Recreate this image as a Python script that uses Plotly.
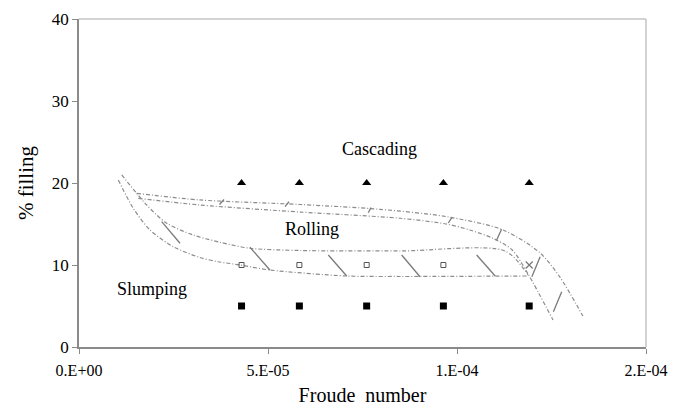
import plotly.graph_objects as go

# ---------------- data ----------------
froude = [4.30e-5, 5.83e-5, 7.61e-5, 9.64e-5, 1.191e-4]
cascading_fill = [20, 20, 20, 20, 20]
rolling_fill = [10, 10, 10, 10]
rolling_froude = froude[:4]
transition_froude = [froude[4]]
transition_fill = [10]
slumping_fill = [5, 5, 5, 5, 5]

# boundary curves (schematic)
u1_x = [15.26e-6, 32.0e-6, 58.5e-6, 79.6e-6, 97.3e-6, 112.2e-6, 122.0e-6, 127.2e-6, 133.3e-6]
u1_y = [18.74, 17.93, 17.38, 16.79, 15.89, 14.27, 11.46, 8.54, 3.78]
u2_x = [15.69e-6, 32.0e-6, 58.5e-6, 84.9e-6, 97.1e-6, 103.4e-6, 109.5e-6, 114.6e-6, 118.8e-6, 125.4e-6]
u2_y = [18.13, 17.32, 16.46, 15.70, 15.00, 14.27, 13.26, 11.83, 8.90, 3.29]
l1_x = [11.3e-6, 15.26e-6, 17.91e-6, 23.2e-6, 30.24e-6, 37.3e-6, 45.24e-6, 58.47e-6, 84.92e-6, 112.7e-6, 118.8e-6]
l1_y = [20.98, 18.74, 17.32, 15.09, 13.66, 12.77, 12.04, 11.77, 11.71, 11.71, 8.78]
l2_x = [10.4e-6, 14.37e-6, 18.78e-6, 24.95e-6, 32.0e-6, 36.85e-6, 42.6e-6, 50.5e-6, 70.8e-6, 84.9e-6, 118.8e-6]
l2_y = [20.37, 16.91, 14.27, 12.23, 10.91, 10.40, 10.00, 9.39, 8.66, 8.60, 8.66]

# hatch marks across the transition bands
hatch_x0 = [37.17e-6, 54.5e-6, 76.53e-6, 97.7e-6, 110.5e-6, 119.8e-6, 21.88e-6, 45.24e-6, 65.95e-6, 85.37e-6, 105.2e-6, 127.7e-6]
hatch_y0 = [17.38, 17.11, 16.38, 15.12, 13.05, 8.57, 15.28, 12.16, 11.22, 11.22, 11.22, 6.74]
hatch_x1 = [38.36e-6, 55.56e-6, 77.25e-6, 98.7e-6, 111.8e-6, 122.0e-6, 26.72e-6, 50.5e-6, 70.82e-6, 90.21e-6, 110.1e-6, 125.5e-6]
hatch_y1 = [17.98, 17.74, 17.01, 15.85, 14.35, 11.01, 12.65, 9.39, 8.66, 8.57, 8.66, 4.30]

region_labels = ["Cascading", "Rolling", "Slumping"]
region_x = [79.6e-6, 61.6e-6, 19.2e-6]
region_y = [24.2, 14.4, 7.1]

x_tickvals = [0, 5e-5, 1e-4, 1.5e-4]
x_ticktext = ["0.E+00", "5.E-05", "1.E-04", "2.E-04"]
y_tickvals = [0, 10, 20, 30, 40]

# ---------------- figure ----------------
FONT = "Liberation Serif"
LINE_COL = "#8c8c8c"
DASH = "4px,2px,1px,2px"

fig = go.Figure()
for xs, ys in [(u1_x, u1_y), (u2_x, u2_y), (l1_x, l1_y), (l2_x, l2_y)]:
    fig.add_trace(go.Scatter(x=xs, y=ys, mode="lines",
                             line=dict(color=LINE_COL, width=1.2, dash=DASH, shape="spline", smoothing=0.8),
                             hoverinfo="skip", showlegend=False))

hx, hy = [], []
for a, b, c, d in zip(hatch_x0, hatch_y0, hatch_x1, hatch_y1):
    hx += [a, c, None]
    hy += [b, d, None]
fig.add_trace(go.Scatter(x=hx, y=hy, mode="lines", line=dict(color="#7a7a7a", width=1.3),
                         hoverinfo="skip", showlegend=False))

fig.add_trace(go.Scatter(x=froude, y=cascading_fill, mode="markers", name="Cascading",
                         marker=dict(symbol="triangle-up", size=8, color="black"), showlegend=False))
fig.add_trace(go.Scatter(x=rolling_froude, y=rolling_fill, mode="markers", name="Rolling",
                         marker=dict(symbol="square-open", size=5, color="#555555", line=dict(width=1)),
                         showlegend=False))
fig.add_trace(go.Scatter(x=transition_froude, y=transition_fill, mode="markers", name="Transition",
                         marker=dict(symbol="x-thin-open", size=7, color="#777777", line=dict(width=1.2)),
                         showlegend=False))
fig.add_trace(go.Scatter(x=froude, y=slumping_fill, mode="markers", name="Slumping",
                         marker=dict(symbol="square", size=7, color="black"), showlegend=False))

for t, x, y in zip(region_labels, region_x, region_y):
    fig.add_annotation(x=x, y=y, text=t, showarrow=False, font=dict(family=FONT, size=18, color="black"))

# top / right frame lines
fig.add_shape(type="line", xref="paper", yref="paper", x0=0, x1=1, y0=1, y1=1,
              line=dict(color="#c4c4c4", width=1.5))
fig.add_shape(type="line", xref="paper", yref="paper", x0=1, x1=1, y0=0, y1=1,
              line=dict(color="#c4c4c4", width=1.5))

fig.update_layout(
    width=678, height=406,
    margin=dict(l=79, r=32, t=19, b=59, autoexpand=False),
    paper_bgcolor="white", plot_bgcolor="white",
    font=dict(family=FONT, size=16, color="black"),
    xaxis=dict(range=[0, 1.5e-4], tickvals=x_tickvals, ticktext=x_ticktext, automargin=False,
               showgrid=False, zeroline=False, showline=True, linecolor="#8a8a8a", linewidth=1.5,
               ticks="outside", ticklen=5, tickcolor="#8a8a8a", tickwidth=1,
               ticklabelstandoff=3,
               tickfont=dict(family=FONT, size=16, color="black"),
               title=dict(text="Froude  number", font=dict(family=FONT, size=20, color="black"), standoff=14)),
    yaxis=dict(range=[0, 40], tickvals=y_tickvals, automargin=False,
               showgrid=False, zeroline=False, showline=True, linecolor="#8a8a8a", linewidth=1.5,
               ticks="outside", ticklen=5, tickcolor="#8a8a8a", tickwidth=1,
               tickfont=dict(family=FONT, size=17, color="black"),
               title=dict(text="% filling", font=dict(family=FONT, size=21, color="black"), standoff=12)),
)

fig.write_html("out.html")
